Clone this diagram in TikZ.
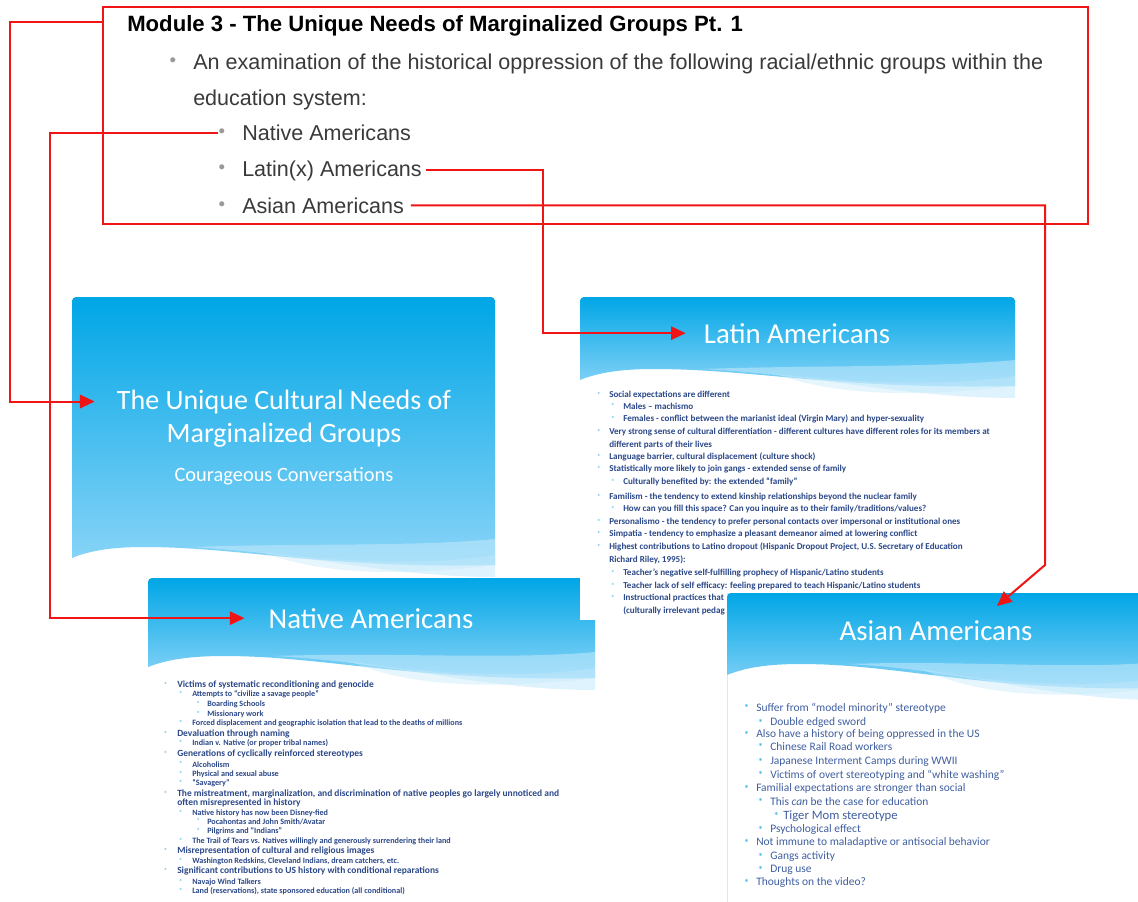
\documentclass[tikz,border=0pt]{standalone}
\usepackage{fontspec}
\setmainfont{Liberation Sans}
\newfontfamily\slidefont{Carlito}
\usetikzlibrary{arrows.meta,positioning,fit}

\definecolor{arrowred}{HTML}{F01414}
\definecolor{slidetop}{HTML}{00A6E6}
\definecolor{slidebot}{HTML}{8CD5F8}
\definecolor{paleband}{HTML}{C4EAFC}
\definecolor{bodyblue}{HTML}{2B4889}
\definecolor{asianblue}{HTML}{405FA0}
\definecolor{bulblue}{HTML}{3CB6EA}
\definecolor{modgray}{HTML}{3A3A3A}

% blue slide header with the wave at its foot: left, top, right, left foot, right foot
\newcommand\wavehead[5]{%
  \pgfmathsetmacro\ww{#3-#1}%
  \shade[top color=slidetop, bottom color=slidebot]
    (#1,#4) [rounded corners=3pt] -- (#1,#2) -- (#3,#2) [sharp corners] -- (#3,{#5-12})
    .. controls ({#1+0.6*\ww},{#5-8}) and ({#1+0.4*\ww},{#4-11}) .. ({#1+0.17*\ww},{#4-11})
    .. controls ({#1+0.09*\ww},{#4-11}) and ({#1+0.04*\ww},{#4-7}) .. (#1,#4) -- cycle;
  \fill[paleband, opacity=.55]
    ({#1+0.28*\ww},{#4-11}) .. controls ({#1+0.55*\ww},{#4-5}) and ({#1+0.75*\ww},#5) .. (#3,#5)
    -- (#3,{#5-38}) .. controls ({#1+0.8*\ww},{#5-30}) and ({#1+0.55*\ww},{#4-15}) .. ({#1+0.28*\ww},{#4-11}) -- cycle;
  \fill[paleband, opacity=.4]
    ({#1+0.45*\ww},{#4-6}) .. controls ({#1+0.65*\ww},{#5-14}) and ({#1+0.85*\ww},{#5-12}) .. (#3,{#5-22})
    -- (#3,{#5-12}) .. controls ({#1+0.8*\ww},{#5-2}) and ({#1+0.6*\ww},{#5}) .. ({#1+0.45*\ww},{#4-6}) -- cycle;
}

\begin{document}
\begin{tikzpicture}[x=0.75pt, y=-0.75pt, >={Triangle[length=11pt,width=10pt]},
  redbox/.style={draw=arrowred, line width=1.5pt, inner sep=0pt},
  redline/.style={draw=arrowred, line width=1.5pt, fill=none},
  modhead/.style={anchor=base west, inner sep=0pt, font=\bfseries\fontsize{16.6}{19}\selectfont},
  modline/.style={anchor=base west, inner sep=0pt, text=modgray, font=\fontsize{16.15}{19}\selectfont},
  moddot/.style={inner sep=0pt, text=black!40, font=\fontsize{14}{16}\selectfont},
  slidetitle/.style={anchor=base, inner sep=0pt, text=white, font=\slidefont\fontsize{21.6}{26}\selectfont},
  slidesub/.style={anchor=base, inner sep=0pt, text=white, font=\slidefont\fontsize{15.3}{18}\selectfont},
  slidebody/.style={fill=white},
  bulsmall/.style={inner sep=0pt, text=bulblue, font=\slidefont\fontsize{5.5}{6}\selectfont},
  latitem/.style={anchor=base west, inner sep=0pt, text=bodyblue, font=\slidefont\bfseries\fontsize{6.8}{8}\selectfont},
  latbul/.style={latitem, label={[bulsmall, label distance=6pt]left:*}},
  natline/.style={anchor=base west, inner sep=0pt, text=bodyblue, font=\slidefont\bfseries\fontsize{7.1}{8}\selectfont},
  natsmall/.style={natline, font=\slidefont\bfseries\fontsize{6.1}{7}\selectfont},
  natone/.style={natline, label={[bulsmall, label distance=7pt]left:*}},
  nattwo/.style={natsmall, label={[bulsmall, label distance=7pt]left:*}},
  natthree/.style={natsmall, label={[bulsmall, label distance=5pt]left:*}},
  asibul/.style={inner sep=0pt, text=bulblue, font=\slidefont\bfseries\fontsize{7.5}{8}\selectfont},
  asiline/.style={anchor=base west, inner sep=0pt, text=asianblue, font=\slidefont\fontsize{8.6}{10}\selectfont},
  asione/.style={asiline, label={[asibul, label distance=5pt]left:*}},
  asithree/.style={asiline, font=\slidefont\fontsize{9.5}{11}\selectfont, label={[asibul, label distance=3pt]left:*}}]

\useasboundingbox (0,0) rectangle (1138,901);
\clip (0,0) rectangle (1138,901);
\fill[white] (0,0) rectangle (1138,901);

% title slide
\wavehead{72}{297}{495}{558}{577}
\node[slidetitle, font=\slidefont\fontsize{21}{26}\selectfont] (titleA1) at (284,409) {The Unique Cultural Needs of};
\node[slidetitle, font=\slidefont\fontsize{21}{26}\selectfont] (titleA2) at (284,442) {Marginalized Groups};
\node[slidesub] (subA) at (284,481) {Courageous Conversations};

% Native Americans slide
\fill[slidebody] (148,578) rectangle (595,905);
\wavehead{148}{578}{595}{667}{690}
\node[slidetitle] (titleC) at (371,628) {Native Americans};
\foreach \y/\t in {685/{Victims of systematic reconditioning and genocide},
    734/{Devaluation through naming},
    754/{Generations of cyclically reinforced stereotypes},
    794/{The mistreatment, marginalization, and discrimination of native peoples go largely unnoticed and},
    851/{Misrepresentation of cultural and religious images},
    871/{Significant contributions to US history with conditional reparations}}
  \node[natone] (nat\y) at (177,{\y+2.5}) {\t};
\node[natline] (nat803) at (177,805.5) {often misrepresented in history};
\foreach \y/\t in {694/{Attempts to “civilize a savage people”},
    723/{Forced displacement and geographic isolation that lead to the deaths of millions},
    743/{Indian v. Native (or proper tribal names)},
    765/{Alcoholism}, 774/{Physical and sexual abuse}, 783/{“Savagery”},
    813/{Native history has now been Disney-fied},
    841/{The Trail of Tears vs. Natives willingly and generously surrendering their land},
    861/{Washington Redskins, Cleveland Indians, dream catchers, etc.},
    882/{Navajo Wind Talkers},
    891/{Land (reservations), state sponsored education (all conditional)}}
  \node[nattwo] (nat\y) at (192,{\y+2}) {\t};
\foreach \y/\t in {704/{Boarding Schools}, 714/{Missionary work},
    822/{Pocahontas and John Smith/Avatar}, 831/{Pilgrims and “Indians”}}
  \node[natthree] (nat\y) at (207,{\y+2}) {\t};

% Latin Americans slide
\fill[slidebody] (580,297) rectangle (1015,620);
\wavehead{580}{297}{1015}{380}{398}
\node[slidetitle] (titleB) at (797,343) {Latin Americans};
\foreach \y/\t in {395/{Social expectations are different},
    432/{Very strong sense of cultural differentiation - different cultures have different roles for its members at},
    457/{Language barrier, cultural displacement (culture shock)},
    469/{Statistically more likely to join gangs - extended sense of family},
    497/{Familism - the tendency to extend kinship relationships beyond the nuclear family},
    522/{Personalismo - the tendency to prefer personal contacts over impersonal or institutional ones},
    534/{Simpatia - tendency to emphasize a pleasant demeanor aimed at lowering conflict},
    547/{Highest contributions to Latino dropout (Hispanic Dropout Project, U.S. Secretary of Education}}
  \node[latbul] (lat\y) at (609,{\y+2.5}) {\t};
\node[latitem] (lat445) at (609,447.5) {different parts of their lives};
\node[latitem] (lat560) at (609,562.5) {Richard Riley, 1995):};
\foreach \y/\t in {407/{Males – machismo},
    419/{Females - conflict between the marianist ideal (Virgin Mary) and hyper-sexuality},
    482/{Culturally benefited by: the extended “family”},
    509/{How can you fill this space? Can you inquire as to their family/traditions/values?},
    573/{Teacher’s negative self-fulfilling prophecy of Hispanic/Latino students},
    586/{Teacher lack of self efficacy: feeling prepared to teach Hispanic/Latino students},
    598/{Instructional practices that}}
  \node[latbul] (lat\y) at (623,{\y+2.5}) {\t};
\node[latitem] (lat611) at (623,613.5) {(culturally irrelevant pedag};

% Asian Americans slide
\fill[slidebody, draw=black!10, line width=0.4pt] (727,593) rectangle (1170,905);
\wavehead{727}{593}{1160}{675}{700}
\node[slidetitle] (titleD) at (936,640) {Asian Americans};
\foreach \y/\t in {708/{Suffer from “model minority” stereotype},
    734/{Also have a history of being oppressed in the US},
    788/{Familial expectations are stronger than social},
    842/{Not immune to maladaptive or antisocial behavior},
    882/{Thoughts on the video?}}
  \node[asione] (asi\y) at (756,{\y+3.5}) {\t};
\foreach \y/\t in {722/{Double edged sword}, 747/{Chinese Rail Road workers},
    761/{Japanese Interment Camps during WWII},
    775/{Victims of overt stereotyping and “white washing”},
    802/{This \textit{can} be the case for education},
    829/{Psychological effect}, 856/{Gangs activity}, 869/{Drug use}}
  \node[asione] (asi\y) at (770,{\y+3.5}) {\t};
\node[asithree] (asi815) at (783,819) {Tiger Mom stereotype};

% module outline
\node[redbox, fit={(103,7) (1088,224)}] (module) {};
\node[modhead] (modtitle) at (127,31) {Module 3 - The Unique Needs of Marginalized Groups Pt. 1};
\node[moddot] (bint) at (173,62) {•};
\node[modline] (intro1) at (193,69) {An examination of the historical oppression of the following racial/ethnic groups within the};
\node[modline] (intro2) at (193,105) {education system:};
\node[moddot] (bnat) at (222,133) {•};
\node[modline] (native) at (242,140) {Native Americans};
\node[moddot] (blat) at (222,169) {•};
\node[modline] (latin) at (242,176) {Latin(x) Americans};
\node[moddot] (basi) at (222,206) {•};
\node[modline] (asian) at (242,213) {Asian Americans};

% red connectors
\coordinate (k1) at (10,22);
\coordinate (k2) at (50,0);
\coordinate (k3) at (543,0);
\coordinate (k4) at (1045,565);
\coordinate (k5) at (997,606);
\draw[redline,->] (module.west |- k1) -- (k1) |- ([xshift=-16.5pt]titleA1.west);
\draw[redline,->] (bnat.west) -- (bnat.west -| k2) |- ([xshift=-18pt]titleC.west);
\draw[redline,->] ([xshift=3pt]latin.east) -- (latin.east -| k3) |- ([xshift=-13.5pt]titleB.west);
\draw[redline,->] ([xshift=5pt]asian.east) -- (asian.east -| k4) -- (k4) -- (k5);
\end{tikzpicture}
\end{document}
